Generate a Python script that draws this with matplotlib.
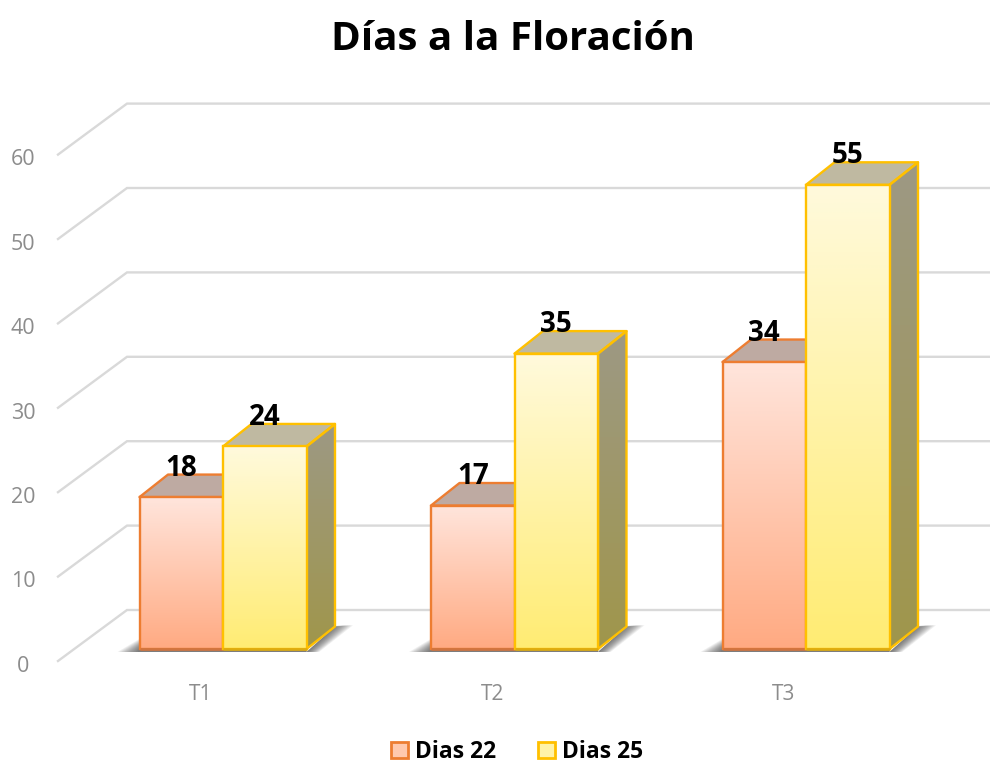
import numpy as np
import matplotlib
matplotlib.use("Agg")
import matplotlib.pyplot as plt
from matplotlib.patches import Polygon, Patch

title = "Días a la Floración"
categories = ["T1", "T2", "T3"]
series_names = ["Dias 22", "Dias 25"]
dias_22 = [18, 17, 34]
dias_25 = [24, 35, 55]
y_ticks = [0, 10, 20, 30, 40, 50, 60]

W, H = 990, 763
PX_X, PX_Y = 291.5, 8.44          # pixels per category / per value unit
X0, Y0 = 223, 649                 # pixel of category 0 / value 0
bar_w = 83.5 / PX_X
dx, dy = 28.5 / PX_X, 22.5 / PX_Y
back_off = (Y0 - 610) / PX_Y
front_off = (Y0 - 661) / PX_Y
wall_left = (127 - X0) / PX_X
wall_front = (58 - X0) / PX_X
label_shift = -22 / PX_X

plt.rcParams['font.family'] = ['Open Sans', 'DejaVu Sans']
fig = plt.figure(figsize=(W / 100, H / 100), dpi=100)
ax = fig.add_axes([0, 0, 1, 1])
ax.axis("off")
xlim = (-X0 / PX_X, (W - X0) / PX_X)
ylim = ((Y0 - H) / PX_Y, Y0 / PX_Y)

GRID = "#d9d9d9"
for v in y_ticks:
    ax.plot([wall_front, wall_left, xlim[1]], [v + front_off, v + back_off, v + back_off],
            color=GRID, lw=1.7, zorder=1, solid_joinstyle="miter")
    ax.text((23 - X0) / PX_X, v + front_off - 0.62, str(v), ha="center", va="center",
            fontsize=15.5, color="#8c8c8c")


def grad(c_top, c_bot, n=128):
    t = np.linspace(0, 1, n)[:, None, None]
    return ((1 - t) * np.array(c_top)[None, None, :] + t * np.array(c_bot)[None, None, :]) / 255


def shadow(x0, x1):
    base = -3 / PX_Y
    n = 12
    for j in range(n):
        k = 1 - j / n
        ext = 22 / PX_X * k
        ext_r = 18 / PX_X * k
        ax.add_patch(Polygon([(x0 - ext, base), (x0, 1.2 * k), (x1, 1.2 * k), (x1, base)], closed=True,
                             fc="#303030", ec="none", alpha=0.075, zorder=2))
        ax.add_patch(Polygon([(x1, base), (x1 + dx, dy), (x1 + dx + ext_r, dy + 0.15),
                              (x1 + ext_r * 0.7, base)], closed=True,
                             fc="#303030", ec="none", alpha=0.075, zorder=2))


def bar3d(x0, v, front_cols, top_col, edge, edge_low, z):
    x1 = x0 + bar_w
    side = Polygon([(x1, 0), (x1 + dx, dy), (x1 + dx, v + dy), (x1, v)], closed=True, fc="none", ec="none")
    ax.add_patch(side)
    im = ax.imshow(grad((157, 153, 132), (160, 150, 75)), extent=(x1, x1 + dx, 0, v + dy),
                   aspect="auto", zorder=z, interpolation="bilinear")
    im.set_clip_path(side)
    ax.add_patch(Polygon([(x1, 0), (x1 + dx, dy), (x1 + dx, v + dy), (x1, v)], closed=True,
                         fc="none", ec=edge, lw=1.7, zorder=z + 0.2, joinstyle="round"))
    ax.add_patch(Polygon([(x0, v), (x0 + dx, v + dy), (x1 + dx, v + dy), (x1, v)], closed=True,
                         fc=top_col, ec=edge, lw=1.7, zorder=z + 0.1, joinstyle="round"))
    ax.imshow(grad(*front_cols), extent=(x0, x1, 0, v), aspect="auto", zorder=z + 0.3,
              interpolation="bilinear")
    ax.add_patch(Polygon([(x0, 0), (x0, v), (x1, v), (x1, 0)], closed=True, fc="none", ec=edge,
                         lw=1.7, zorder=z + 0.4, joinstyle="miter"))
    ax.plot([x0, x1], [0, 0], color=edge_low, lw=1.9, zorder=z + 0.45, solid_capstyle="butt")


ORANGE, GOLD = "#ed7d31", "#ffc000"
for i in range(len(categories)):
    shadow(i - bar_w, i + bar_w)
    bar3d(i - bar_w, dias_22[i], ((255, 229, 220), (255, 170, 130)), "#beaaa2", ORANGE, "#cf7440", 3)
    bar3d(i, dias_25[i], ((255, 250, 220), (255, 236, 115)), "#bfb9a1", GOLD, "#dcab10", 4)
    ax.text(i + label_shift, (Y0 - 695) / PX_Y, categories[i], ha="center", va="center",
            fontsize=15, color="#8c8c8c")
    ax.text(i - bar_w / 2, dias_22[i] + dy * 0.85 - 0.55, str(dias_22[i]), ha="center", va="bottom",
            fontsize=20, fontweight="bold", color="black", zorder=10, linespacing=1)
    ax.text(i + bar_w / 2, dias_25[i] + dy * 0.85 - 0.55, str(dias_25[i]), ha="center", va="bottom",
            fontsize=20, fontweight="bold", color="black", zorder=10, linespacing=1)

ax.text((513 - X0) / PX_X, (Y0 - 39) / PX_Y, title, ha="center", va="center",
        fontsize=29, fontweight="bold", color="black")

handles = [Patch(fc="#ffc9ae", ec=ORANGE, lw=2), Patch(fc="#fff3a8", ec=GOLD, lw=2)]
leg = ax.legend(handles, series_names, loc="center", bbox_to_anchor=(517 / W, 1 - 752 / H), ncol=2,
                frameon=False, handlelength=0.72, handleheight=0.72,
                columnspacing=1.85, handletextpad=0.3, borderpad=0,
                prop={"weight": "bold", "size": 16.5})

ax.set_xlim(*xlim)
ax.set_ylim(*ylim)
fig.savefig("out.png", dpi=100, facecolor="white")
